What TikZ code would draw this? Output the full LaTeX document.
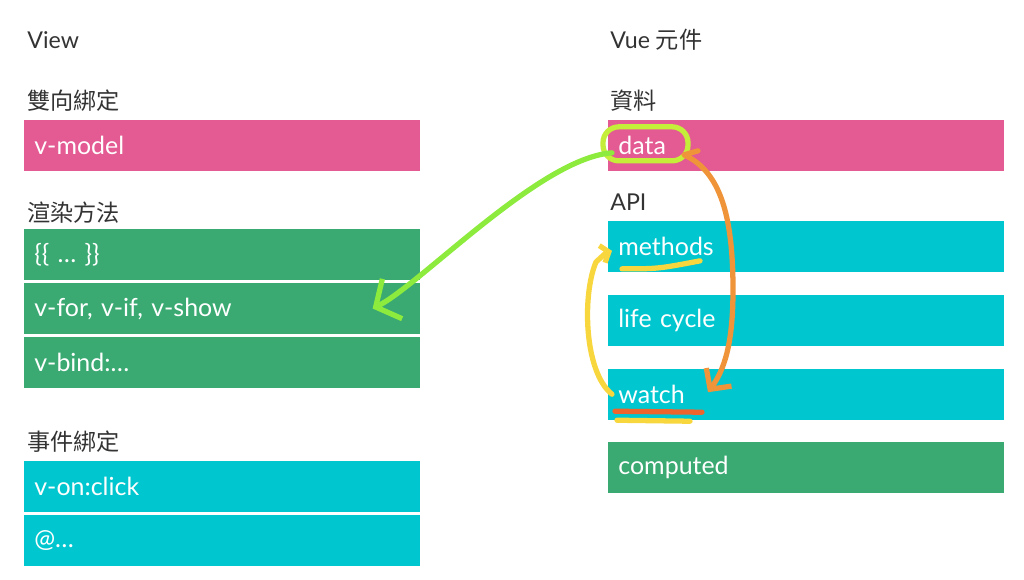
\documentclass[tikz,border=0pt]{standalone}
\usepackage{fontspec}
\setmainfont{Lato}
\newfontfamily\cjk{Noto Sans CJK TC}
\usepackage{tikz}
\usetikzlibrary{arrows.meta, positioning, calc}
\definecolor{vuepink}{RGB}{228,90,146}
\definecolor{vuegreen}{RGB}{58,170,114}
\definecolor{vuecyan}{RGB}{0,199,207}
\definecolor{vuetext}{RGB}{51,51,51}
\definecolor{penlime}{RGB}{140,235,60}
\definecolor{penlemon}{RGB}{196,238,58}
\definecolor{penorange}{RGB}{240,148,58}
\definecolor{penyellow}{RGB}{248,214,62}
\definecolor{penred}{RGB}{238,100,45}
\tikzset{
  %% ---- labels ----
  heading/.style = {anchor=west, inner sep=0pt, text=vuetext,
                    font=\fontsize{13.2}{15}\selectfont},
  %% ---- boxes ----
  bar/.style     = {rectangle, fill=#1, anchor=north west,
                    minimum width=7.92cm, minimum height=1.02cm,
                    text width=7.52cm, inner xsep=0.2cm, align=left,
                    text=white, font=\fontsize{14.2}{16}\selectfont},
  bar/.default   = vuecyan,
  %% ---- pen strokes ----
  pen/.style     = {draw=#1, line width=3pt, line cap=round,
                    line join=round},
  penarrow/.style= {pen=#1, -{Straight Barb[length=0.37cm, width=0.89cm]}},
}

\begin{document}
\begin{tikzpicture}[x=0.02cm, y=-0.02cm]
  \useasboundingbox (0,0) rectangle (1024,580);

  %% View column
  \node[heading] (view) at (27,40) {View};
  \node[heading] (twoway) at (27,101) {\cjk 雙向綁定};
  \node[bar=vuepink] (vmodel) at (24,120) {v-model};

  \node[heading] (render) at (27,213) {\cjk 渲染方法};
  \node[bar=vuegreen] (mustache) at (24,229) {\{\{ … \}\}};
  \node[bar=vuegreen, below=0.04cm of mustache] (vfor) {v-for, v-if, v-show};
  \node[bar=vuegreen, below=0.04cm of vfor] (vbind) {v-bind:…};

  \node[heading] (events) at (27,442) {\cjk 事件綁定};
  \node[bar] (vonclick) at (24,461) {v-on:click};
  \node[bar, below=0.04cm of vonclick] (atevent) {@…};

  %% Vue component column
  \node[heading] (vue) at (610,40) {Vue {\cjk 元件}};
  \node[heading] (datahead) at (610,101) {\cjk 資料};
  \node[bar=vuepink] (data) at (608,120) {data};

  \node[heading] (api) at (610,202) {API};
  \node[bar] (methods) at (608,221) {methods};
  \node[bar, below=0.44cm of methods] (lifecycle) {life cycle};
  \node[bar, below=0.44cm of lifecycle] (watch) {watch};
  \node[bar=vuegreen, below=0.44cm of watch] (computed) {computed};

  %% hand-drawn marks
  \draw[pen=penlemon, rounded corners=9pt]
    ($(data.west)+(-5,-19)$) rectangle ($(data.west)+(80,15)$);
  \draw[penarrow=penlime] ($(data.west)+(4,7)$)
    .. controls (540,158) and (420,285) .. ($(vfor.east)+(-48,0)$);

  \draw[pen=penorange, -{Straight Barb[length=0.3cm, width=0.62cm]}]
    ($(data.west)+(90,5)$) -- ($(data.west)+(76,9)$)
    .. controls (722,172) and (733,220) .. (733,290)
    .. controls (733,345) and (724,370) .. ($(watch.west)+(100,-2)$);
  \draw[pen=penred] ($(watch.west)+(7,17)$) -- ($(watch.west)+(94,18)$);
  \draw[pen=penyellow] ($(watch.west)+(9,26)$) -- ($(watch.west)+(82,27)$);

  \draw[pen=penyellow, -{Straight Barb[length=0.14cm, width=0.36cm]}]
    ($(watch.west)+(4,0)$) .. controls (584,372) and (582,295) .. (596,262)
    -- ($(methods.west)+(-2,6)$) -- ($(methods.west)+(4,4)$);
  \draw[pen=penyellow] ($(methods.west)+(14,22)$)
    .. controls ($(methods.west)+(50,22)$) .. ($(methods.west)+(92,14)$);
\end{tikzpicture}
\end{document}
